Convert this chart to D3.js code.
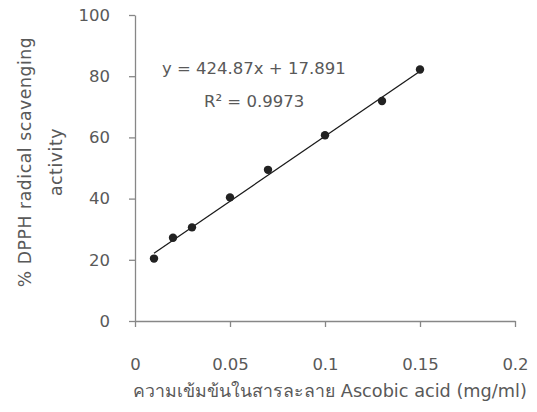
<!DOCTYPE html>
<html>
<head>
<meta charset="utf-8">
<script src="https://cdn.jsdelivr.net/npm/d3@7"></script>
<style>
  body { margin: 0; background: #fff; }
  svg text { font-family: "DejaVu Sans", "Noto Sans", sans-serif; fill: #595959; }
</style>
</head>
<body>
<div id="container"></div>
<script>
// values
const concentration = [0.01, 0.02, 0.03, 0.05, 0.07, 0.1, 0.13, 0.15];
const activity = [20.4, 27.2, 30.6, 40.4, 49.4, 60.7, 71.9, 82.2];
const xTicks = [0, 0.05, 0.1, 0.15, 0.2];
const xTickLabels = ["0", "0.05", "0.1", "0.15", "0.2"];
const yTicks = [0, 20, 40, 60, 80, 100];
const slope = 424.87;
const intercept = 17.891;
const eqText = "y = 424.87x + 17.891";
const r2Text = "R\u00b2 = 0.9973";
const xTitle = "ความเข้มข้นในสารละลาย Ascobic acid (mg/ml)";
const yTitle = ["% DPPH radical scavenging", "activity"];

const w = 537;
const h = 412;
const plotLeft = 135, plotRight = 515, plotTop = 15, plotBottom = 321;
const axisColor = "#878787";

const x = d3.scaleLinear().domain([0, 0.2]).range([plotLeft, plotRight]);
const y = d3.scaleLinear().domain([0, 100]).range([plotBottom, plotTop]);

const svg = d3.select("#container")
  .append("svg")
  .attr("width", w)
  .attr("height", h);

const xAxis = svg.append("g")
  .attr("transform", "translate(0," + plotBottom + ")")
  .call(d3.axisBottom(x).tickValues(xTicks).tickFormat((d, i) => xTickLabels[i])
    .tickSize(6).tickSizeOuter(0).tickPadding(31));

const yAxis = svg.append("g")
  .attr("transform", "translate(" + plotLeft + ",0)")
  .call(d3.axisLeft(y).tickValues(yTicks).tickSize(6).tickSizeOuter(0).tickPadding(19));

[xAxis, yAxis].forEach(g => {
  g.selectAll("path, line").attr("stroke", axisColor).attr("stroke-width", 1.3);
  g.selectAll("text").style("font-size", "16.5px").style("font-family", "DejaVu Sans").attr("fill", "#595959");
});

// trend line
const x0 = d3.min(concentration), x1 = d3.max(concentration);
svg.append("line")
  .attr("x1", x(x0)).attr("y1", y(slope * x0 + intercept))
  .attr("x2", x(x1)).attr("y2", y(slope * x1 + intercept))
  .attr("stroke", "#1a1a1a")
  .attr("stroke-width", 1.3);

svg.selectAll("circle")
  .data(concentration)
  .enter()
  .append("circle")
  .attr("cx", d => x(d))
  .attr("cy", (d, i) => y(activity[i]))
  .attr("r", 4.2)
  .attr("fill", "#222");

svg.append("text")
  .attr("x", 162).attr("y", 74)
  .style("font-size", "16.5px")
  .text(eqText);

svg.append("text")
  .attr("x", 204).attr("y", 107)
  .style("font-size", "16.5px")
  .text(r2Text);

svg.append("text")
  .attr("x", 330).attr("y", 397)
  .attr("text-anchor", "middle")
  .style("font-size", "17.7px")
  .text(xTitle);

svg.selectAll(".ytitle")
  .data(yTitle)
  .enter()
  .append("text")
  .attr("class", "ytitle")
  .attr("text-anchor", "middle")
  .attr("transform", (d, i) => "translate(" + (31 + i * 31) + ",162) rotate(-90)")
  .style("font-size", "17.2px")
  .style("letter-spacing", "0.6px")
  .text(d => d);
</script>
</body>
</html>
